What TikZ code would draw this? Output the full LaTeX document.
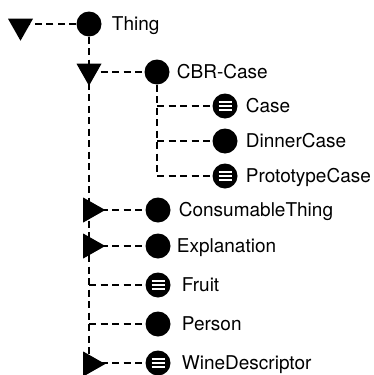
\documentclass[tikz,border=0pt]{standalone}
\usepackage{fontspec}
\setmainfont{TeX Gyre Heros}
\usetikzlibrary{shapes.geometric,positioning,backgrounds}
\tikzset{
  cls/.style     = { circle, fill=black, minimum size=25pt, inner sep=0pt },
  clsinst/.style = { cls, path picture={
      \foreach \dy in {-4.3,0,4.3}
        \draw[white, line width=1.7pt] ([xshift=-6.5pt,yshift=\dy pt]path picture bounding box.center) -- ++(13pt,0);
    } },
  closed/.style  = { isosceles triangle, isosceles triangle stretches, fill=black,
                     minimum width=25pt, minimum height=22pt, inner sep=0pt },
  opened/.style  = { closed, rotate=-90 },
  link/.style    = { line width=1.2pt, dash pattern=on 7pt off 4.5pt },
  txt/.style     = { inner sep=0pt, text height=13.5pt, text depth=0pt, font=\fontsize{19}{23}\selectfont }
}
\begin{document}
\begin{tikzpicture}[x=1pt, y=-1pt]
  \useasboundingbox (0,0) rectangle (374,375);
  % Draw all classes
  \node[opened]  (thingTri) at (20.5,26) {};
  \node[cls]     (thing)    at (89,24)   {};
  \node[opened]  (cbrTri)   at (89,71)   {};
  \node[cls]     (cbr)      at (157,72)  {};
  \node[clsinst] (case)     at (225,106) {};
  \node[cls]     (dinner)   at (225,141) {};
  \node[clsinst] (proto)    at (225,176) {};
  \node[closed]  (consTri)  at (90.5,210) {};
  \node[cls]     (cons)     at (158,210) {};
  \node[closed]  (explTri)  at (90.5,246) {};
  \node[cls]     (expl)     at (158,246) {};
  \node[clsinst] (fruit)    at (158,285) {};
  \node[cls]     (person)   at (158,324) {};
  \node[closed]  (wineTri)  at (90.5,364) {};
  \node[clsinst] (wine)     at (158,363) {};
  % Draw labels
  \node[txt, right=10pt of thing]  {Thing};
  \node[txt, right=7pt of cbr]     {CBR-Case};
  \node[txt, right=8pt of case]    {Case};
  \node[txt, right=8pt of dinner]  {DinnerCase};
  \node[txt, right=8pt of proto]   {PrototypeCase};
  \node[txt, right=8pt of cons]    {ConsumableThing};
  \node[txt, right=6pt of expl]    {Explanation};
  \node[txt, right=11pt of fruit]  {Fruit};
  \node[txt, right=11pt of person] {Person};
  \node[txt, right=11pt of wine]   {WineDescriptor};
  % Draw connectors
  \begin{scope}[on background layer]
    \draw[link] (thing) -- (thing -| thingTri);
    \draw[link] (thing) -- (thing |- wineTri);
    \foreach \n in {cbr,cons,expl,fruit,person,wine}
      \draw[link] (\n -| thing) -- (\n);
    \draw[link] (cbr) -- (cbr |- proto);
    \foreach \n in {case,dinner,proto}
      \draw[link] (\n -| cbr) -- (\n);
  \end{scope}
\end{tikzpicture}
\end{document}
